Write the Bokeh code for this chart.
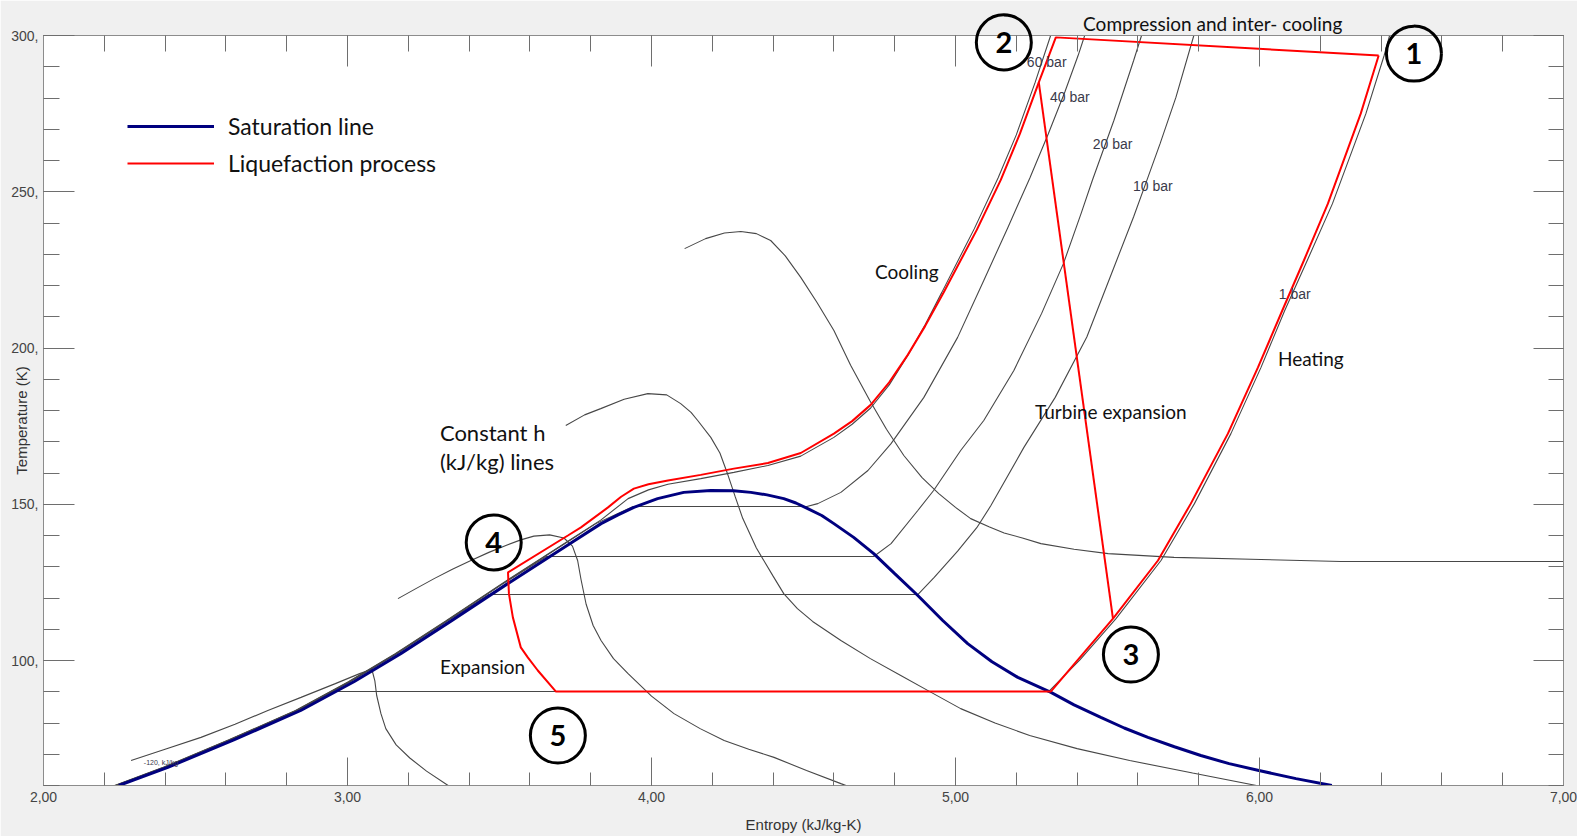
import math
from bokeh.plotting import figure
from bokeh.models import LinearAxis, FixedTicker, Legend, LegendItem, CustomLabelingPolicy
from bokeh.core.properties import value
from bokeh.embed import file_html
from bokeh.resources import INLINE

# ---------------- data: entropy s (kJ/kg-K) and temperature T (K) ----------------
# saturation dome
sat_s = [2.248, 2.409, 2.626, 2.846, 3.021, 3.175, 3.340, 3.527, 3.735, 3.834, 3.890, 3.942,
         4.020, 4.106, 4.195, 4.270, 4.327, 4.380, 4.435, 4.475, 4.514, 4.560, 4.600, 4.665,
         4.731, 4.800, 4.876, 4.958, 5.040, 5.120, 5.205, 5.314, 5.390, 5.478, 5.555, 5.633,
         5.720, 5.807, 5.900, 5.998, 6.120, 6.238]
sat_T = [60.0, 65.8, 74.6, 84.0, 93.2, 102.2, 112.6, 124.6, 137.6, 143.8, 146.6, 149.0,
         151.8, 153.8, 154.4, 154.3, 153.8, 153.0, 151.8, 150.4, 148.6, 146.4, 143.8, 139.4,
         134.2, 127.8, 120.8, 112.8, 105.4, 99.6, 94.6, 89.8, 85.8, 81.8, 78.4, 75.4,
         72.4, 69.6, 67.0, 64.8, 62.2, 60.0]

# isobars
p1_s = [2.243, 2.403, 2.619, 2.838, 2.955, 5.307, 5.410, 5.528, 5.676, 5.786, 5.906, 6.005,
        6.083, 6.157, 6.240, 6.350, 6.410, 6.428]
p1_T = [60.0, 65.8, 74.6, 84.0, 90.1, 90.1, 100.3, 113.4, 132.0, 150.2, 172.6, 193.8,
        212.0, 228.0, 246.2, 275.0, 293.6, 300.0]

p10_s = [2.240, 2.400, 2.616, 2.835, 3.009, 3.163, 3.328, 3.465, 4.876, 4.930, 5.007, 5.070,
         5.116, 5.225, 5.328, 5.432, 5.522, 5.586, 5.633, 5.673, 5.725, 5.784]
p10_T = [60.0, 65.8, 74.6, 84.0, 93.2, 102.2, 112.6, 121.1, 121.1, 126.6, 135.0, 142.5,
         149.5, 168.2, 184.2, 203.5, 226.0, 242.0, 254.6, 265.4, 280.2, 300.0]

p20_s = [2.238, 2.398, 2.614, 2.833, 3.007, 3.161, 3.326, 3.512, 3.655, 4.731, 4.788, 4.876,
         4.928, 5.017, 5.093, 5.192, 5.283, 5.355, 5.413, 5.450, 5.521, 5.586, 5.612]
p20_T = [60.0, 65.8, 74.6, 84.0, 93.2, 102.2, 112.6, 124.6, 133.3, 133.3, 137.4, 148.0,
         154.4, 167.2, 176.8, 192.8, 211.0, 227.0, 243.0, 253.6, 272.8, 292.0, 300.0]

p40_s = [2.236, 2.396, 2.612, 2.831, 3.005, 3.159, 3.324, 3.510, 3.718, 3.817, 3.940, 4.511,
         4.547, 4.623, 4.712, 4.788, 4.896, 5.007, 5.093, 5.172, 5.245, 5.305, 5.360, 5.403, 5.425]
p40_T = [60.0, 65.8, 74.6, 84.0, 93.2, 102.2, 112.6, 124.6, 137.6, 143.8, 149.3, 149.3,
         150.2, 153.8, 160.8, 169.4, 184.2, 203.4, 221.6, 238.5, 254.5, 268.5, 282.0, 293.5, 300.0]

p60_s = [2.234, 2.394, 2.610, 2.829, 3.003, 3.157, 3.322, 3.508, 3.716, 3.834, 3.923, 3.990,
         4.054, 4.162, 4.271, 4.383, 4.491, 4.600, 4.660, 4.721, 4.782, 4.843, 4.900, 4.955,
         5.062, 5.140, 5.200, 5.262, 5.313]
p60_T = [60.0, 65.8, 74.6, 84.0, 93.2, 102.2, 112.6, 124.6, 137.6, 145.0, 151.8, 154.6,
         156.4, 158.2, 160.2, 162.4, 165.4, 171.4, 175.6, 180.8, 188.2, 197.6, 207.4, 217.8,
         238.2, 254.4, 268.2, 285.0, 300.0]

# constant enthalpy lines
hA_s = [4.109, 4.178, 4.240, 4.294, 4.345, 4.392, 4.440, 4.491, 4.545, 4.600, 4.655, 4.718,
        4.773, 4.830, 4.890, 4.945, 5.000, 5.050, 5.110, 5.160, 5.220, 5.281, 5.390, 5.502,
        5.719, 6.005, 6.268, 7.000]
hA_T = [231.8, 235.0, 236.8, 237.3, 236.6, 234.4, 229.5, 222.6, 214.5, 205.6, 194.5, 183.2,
        174.0, 165.6, 158.5, 153.4, 149.0, 145.4, 142.8, 140.8, 139.2, 137.4, 135.6, 134.2,
        133.0, 132.3, 131.7, 131.7]

hB_s = [3.718, 3.780, 3.833, 3.910, 3.988, 4.050, 4.096, 4.130, 4.152, 4.195, 4.225, 4.251,
        4.275, 4.300, 4.345, 4.400, 4.435, 4.480, 4.530, 4.623, 4.720, 4.820, 4.920, 5.017,
        5.130, 5.244, 5.400, 5.573, 5.780, 5.990]
hB_T = [175.2, 178.6, 180.6, 183.6, 185.4, 185.0, 182.2, 179.4, 176.8, 171.4, 166.4, 159.5,
        152.5, 145.5, 136.0, 127.0, 121.4, 116.6, 112.5, 106.4, 100.6, 95.2, 89.8, 84.6,
        80.0, 76.0, 71.8, 68.0, 64.0, 60.0]

hC_s = [3.166, 3.225, 3.285, 3.345, 3.406, 3.465, 3.521, 3.570, 3.613, 3.665, 3.712, 3.740,
        3.757, 3.768, 3.785, 3.808, 3.834, 3.875, 3.923, 4.000, 4.074, 4.160, 4.239, 4.320,
        4.403, 4.510, 4.623, 4.640]
hC_T = [119.8, 123.0, 126.2, 129.2, 132.0, 134.6, 136.8, 138.6, 139.8, 140.2, 139.2, 136.6,
        132.0, 126.0, 118.0, 111.2, 106.4, 100.6, 95.8, 88.6, 83.0, 78.2, 74.4, 71.6,
        69.0, 64.8, 60.6, 60.0]

hD_s = [2.288, 2.400, 2.518, 2.630, 2.738, 2.847, 2.960, 3.040, 3.080, 3.090, 3.096, 3.110,
        3.126, 3.160, 3.205, 3.260, 3.331]
hD_T = [68.0, 71.6, 75.4, 79.6, 84.0, 88.2, 92.6, 95.8, 97.2, 93.5, 88.8, 83.0,
        78.2, 73.0, 68.8, 64.6, 60.0]

# liquefaction cycle: 1 -> 2 -> cooling -> 4 -> expansion -> 5 -> evaporation -> heating -> 1
cyc_s = [6.392, 5.330, 5.274, 5.212, 5.149, 5.070, 4.960, 4.900, 4.843, 4.782, 4.721, 4.660,
         4.600, 4.491, 4.383, 4.271, 4.162, 4.054, 3.990, 3.942, 3.900, 3.857, 3.768, 3.725,
         3.528, 3.531, 3.544, 3.570, 3.593, 3.626, 3.685, 5.314, 5.518, 5.666, 5.774, 5.896,
         5.995, 6.075, 6.146, 6.225, 6.333, 6.392]
cyc_T = [293.6, 299.4, 285.0, 268.6, 253.8, 237.8, 217.6, 207.0, 197.8, 189.0, 181.8, 176.6,
         172.6, 166.4, 163.2, 161.4, 159.4, 157.6, 156.4, 155.0, 152.4, 149.0, 142.6, 140.0,
         128.2, 121.4, 113.8, 104.2, 101.0, 96.8, 90.1, 90.1, 113.4, 132.0, 150.2, 172.6,
         193.8, 212.0, 228.0, 246.2, 275.0, 293.6]
# turbine expansion branch
turb_s = [5.274, 5.518]
turb_T = [285.0, 113.4]

# state point markers
state_labels = ["1", "2", "3", "4", "5"]
state_s = [6.508, 5.159, 5.577, 3.481, 3.692]
state_T = [294.2, 297.8, 101.9, 137.8, 76.0]

# isobar labels
bar_labels = ["60 bar", "40 bar", "20 bar", "10 bar", "1 bar"]
bar_s = [5.300, 5.376, 5.517, 5.649, 6.116]
bar_T = [291.4, 280.2, 265.4, 252.0, 217.4]

# process notes
note_labels = ["Cooling", "Turbine expansion", "Heating"]
note_s = [4.840, 5.511, 6.169]
note_T = [224.5, 179.7, 196.6]
h_notes = ["Constant h", "(kJ/kg) lines"]
h_notes_s = [3.304, 3.304]
h_notes_T = [173.0, 163.7]
exp_note = ["Expansion"]
exp_note_s = [3.304]
exp_note_T = [98.1]
top_note = ["Compression and inter- cooling"]
top_note_s = [5.846]
top_note_T = [303.8]

# axes ticks
x_major = [2, 3, 4, 5, 6, 7]
x_minor = [2.0, 2.2, 2.4, 2.6, 2.8, 3.0, 3.2, 3.4, 3.6, 3.8, 4.0, 4.2, 4.4, 4.6, 4.8, 5.0,
           5.2, 5.4, 5.6, 5.8, 6.0, 6.2, 6.4, 6.6, 6.8, 7.0]
x_tick_text = ["2,00", "3,00", "4,00", "5,00", "6,00", "7,00"]
y_major = [100, 150, 200, 250, 300]
y_minor = [60, 70, 80, 90, 100, 110, 120, 130, 140, 150, 160, 170, 180, 190, 200, 210, 220,
           230, 240, 250, 260, 270, 280, 290, 300]
y_tick_text = ["100,", "150,", "200,", "250,", "300,"]

# ---------------- figure ----------------
p = figure(frame_width=1520, frame_height=750, x_range=(2, 7), y_range=(60, 300),
           min_border_left=43, min_border_right=14, min_border_top=35, min_border_bottom=51,
           x_axis_location=None, y_axis_location=None,
           output_backend="svg", toolbar_location=None)
p.background_fill_color = "white"
p.border_fill_color = "#f0f0f0"
p.outline_line_color = "#8c8c8c"
p.grid.visible = False

AX = "#8c8c8c"
TK = "#6e6e6e"
LBL = "#444444"

# tick marks only (no labels) on the top and right frame edges
no_labels = CustomLabelingPolicy(
    code="for (const i of Array.from(indices)) { indices.unset(i) } return indices")


def make_axis(major, minor, tin, tmin):
    ax = LinearAxis(ticker=FixedTicker(ticks=major, minor_ticks=minor))
    ax.axis_line_color = AX
    ax.major_tick_line_color = TK
    ax.minor_tick_line_color = TK
    ax.major_tick_in = tin
    ax.major_tick_out = 0
    ax.minor_tick_in = tmin
    ax.minor_tick_out = 0
    ax.major_label_text_font = "Liberation Sans"
    ax.major_label_text_font_size = "14px"
    ax.major_label_text_color = LBL
    return ax


xb = make_axis(x_major, x_minor, 28, 13)
xb.major_label_overrides = dict(zip(x_major, x_tick_text))
xb.major_label_standoff = 6
xb.axis_label = "Entropy (kJ/kg-K)"
xb.axis_label_text_font = "Liberation Sans"
xb.axis_label_text_font_size = "15px"
xb.axis_label_text_font_style = "normal"
xb.axis_label_text_color = "#333333"
xb.axis_label_standoff = 11
p.add_layout(xb, "below")

yl = make_axis(y_major, y_minor, 31, 16)
yl.major_label_overrides = dict(zip(y_major, y_tick_text))
yl.major_label_standoff = 5
p.add_layout(yl, "left")

xt = make_axis(x_major, x_minor, 31, 16)
xt.major_label_policy = no_labels
xt.major_label_standoff = 0
p.add_layout(xt, "above")

yr = make_axis(y_major, y_minor, 30, 15)
yr.major_label_policy = no_labels
yr.major_label_standoff = 0
p.add_layout(yr, "right")

# grey property lines
GREY = "#474747"
for xs, ys in [(p1_s, p1_T), (p10_s, p10_T), (p20_s, p20_T), (p40_s, p40_T), (p60_s, p60_T)]:
    p.line(xs, ys, line_color=GREY, line_width=1.1)
for xs, ys in [(hA_s, hA_T), (hB_s, hB_T), (hC_s, hC_T), (hD_s, hD_T)]:
    p.line(xs, ys, line_color=GREY, line_width=1.1)

sat_r = p.line(sat_s, sat_T, line_color="#00007f", line_width=3)
cyc_r = p.line(cyc_s, cyc_T, line_color="#ff0000", line_width=2)
p.line(turb_s, turb_T, line_color="#ff0000", line_width=2)

# isobar labels
p.text(bar_s, bar_T, text=bar_labels, text_font=value("Liberation Sans"), text_font_size="14px",
       text_color="#3a3a4a", text_align="center", text_baseline="middle")
p.text([2.330], [67.4], text=["-120, kJ/kg"], text_font=value("Liberation Sans"),
       text_font_size="7px", text_color="#3a3a4a", text_align="left", text_baseline="middle")

# process notes
NOTE = dict(text_font=value("Lato"), text_color="#111111", text_baseline="middle")
p.text(note_s, note_T, text=note_labels, text_font_size="19px", text_align="center", **NOTE)
p.text(h_notes_s, h_notes_T, text=h_notes, text_font_size="22px", text_align="left", **NOTE)
p.text(exp_note_s, exp_note_T, text=exp_note, text_font_size="19px", text_align="left", **NOTE)
p.text(top_note_s, top_note_T, text=top_note, text_font_size="19px", text_align="center",
       level="overlay", **NOTE)

# y axis title, placed inside the tick-label column
p.text([1.9286], [176.8], text=["Temperature (K)"], angle=math.pi / 2,
       text_font=value("Liberation Sans"), text_font_size="15px", text_color="#333333",
       text_align="center", text_baseline="middle", level="overlay")

# numbered state points
p.scatter(state_s, state_T, marker="circle", size=55, fill_color=None, line_color="black",
          line_width=3, level="overlay")
p.text(state_s, state_T, text=state_labels, text_font=value("Lato"), text_font_style="bold",
       text_font_size="29px", text_color="black", text_align="center", text_baseline="middle",
       level="overlay")

legend = Legend(items=[LegendItem(label="Saturation line", renderers=[sat_r]),
                       LegendItem(label="Liquefaction process", renderers=[cyc_r])],
                location=(84, 608), orientation="vertical")
legend.border_line_color = None
legend.background_fill_alpha = 0
legend.padding = 0
legend.margin = 0
legend.spacing = 9
legend.glyph_width = 87
legend.glyph_height = 28
legend.label_height = 28
legend.label_standoff = 14
legend.label_text_font = "Lato"
legend.label_text_font_size = "23px"
legend.label_text_color = "#111111"
p.add_layout(legend)

open("out.html", "w").write(file_html(p, INLINE))
